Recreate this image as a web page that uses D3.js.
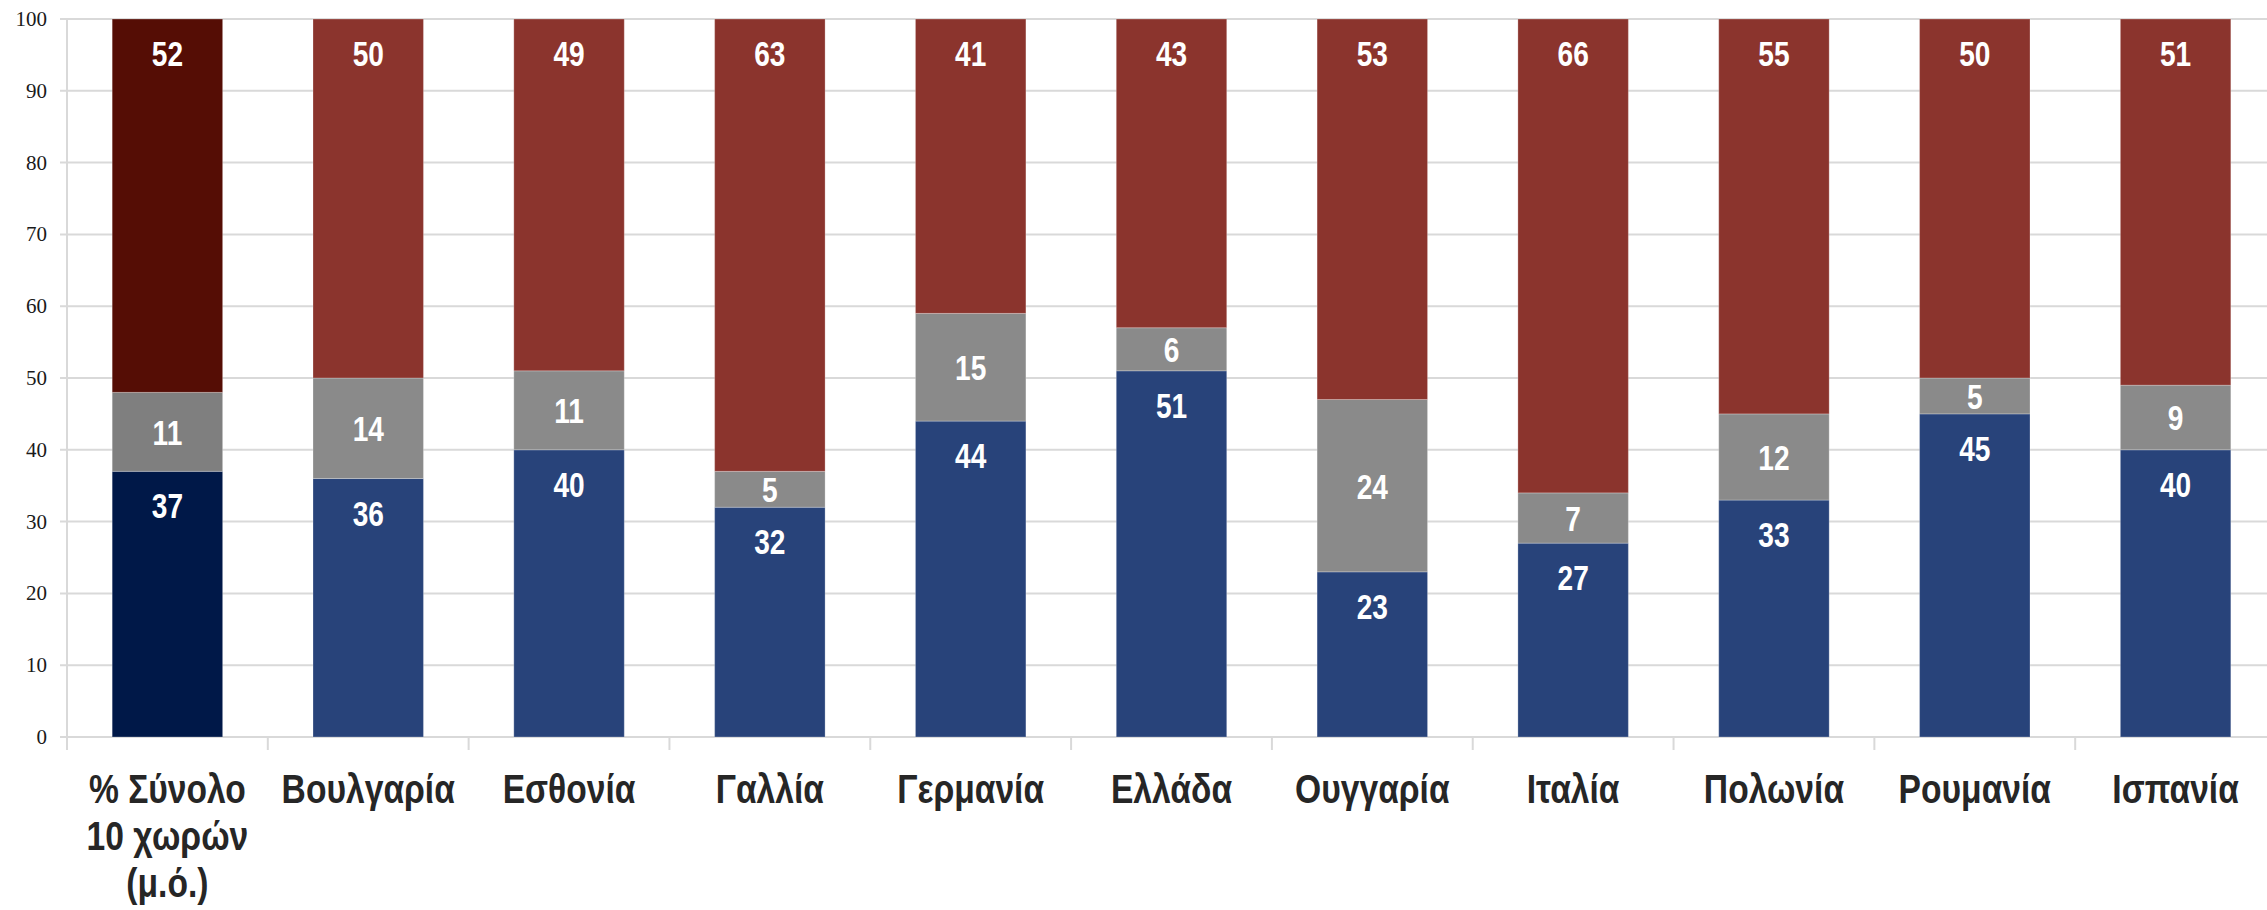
<!DOCTYPE html>
<html>
<head>
<meta charset="utf-8">
<script src="https://cdn.jsdelivr.net/npm/d3@7"></script>
<style>
  body { margin: 0; background: #fff; }
  svg { display: block; }
</style>
</head>
<body>
<svg width="2267" height="910"></svg>
<script>
// categories (first one is the 10-country average)
var categories = [
    ["% Σύνολο", "10 χωρών", "(μ.ό.)"],
    ["Βουλγαρία"], ["Εσθονία"], ["Γαλλία"], ["Γερμανία"], ["Ελλάδα"],
    ["Ουγγαρία"], ["Ιταλία"], ["Πολωνία"], ["Ρουμανία"], ["Ισπανία"]
];
var blueValues = [37, 36, 40, 32, 44, 51, 23, 27, 33, 45, 40];
var grayValues = [11, 14, 11, 5, 15, 6, 24, 7, 12, 5, 9];
var redValues  = [52, 50, 49, 63, 41, 43, 53, 66, 55, 50, 51];
var yTicks = [0, 10, 20, 30, 40, 50, 60, 70, 80, 90, 100];

var chart = {

    colors : {
        blue : ["#001848", "#28437a"],
        gray : ["#7f7f7f", "#8a8a8a"],
        red  : ["#550d05", "#8b342d"]
    },

    show : function() {
        var rows = categories.map(function(c, i) {
            return {i: i, blue: blueValues[i], gray: grayValues[i], red: redValues[i]};
        });
        chart.dataViz(rows);
    },

    dataViz : function(rows) {
        var svg = d3.select("svg");

        var x = d3.scaleBand()
            .domain(d3.range(categories.length))
            .range([67, 2276])
            .paddingInner(0.45)
            .paddingOuter(0.225);

        var y = d3.scaleLinear().domain([0, 100]).range([737, 19]);

        // gridlines
        svg.append("g")
            .selectAll("line")
            .data(yTicks)
            .enter()
            .append("line")
            .attr("x1", 60)
            .attr("x2", 2267)
            .attr("y1", function(d) {return y(d);})
            .attr("y2", function(d) {return y(d);})
            .style("stroke", "#d9d9d9")
            .style("stroke-width", "2px");

        // y axis line
        svg.append("line")
            .attr("x1", 67).attr("x2", 67)
            .attr("y1", y(100)).attr("y2", 750)
            .style("stroke", "#d9d9d9")
            .style("stroke-width", "2px");

        // x ticks at band boundaries
        var step = x.step();
        svg.append("g")
            .selectAll("line")
            .data(d3.range(categories.length + 1))
            .enter()
            .append("line")
            .attr("x1", function(d) {return 67 + d * step;})
            .attr("x2", function(d) {return 67 + d * step;})
            .attr("y1", y(0))
            .attr("y2", 750)
            .style("stroke", "#d9d9d9")
            .style("stroke-width", "2px");

        // y tick labels
        svg.append("g")
            .selectAll("text")
            .data(yTicks)
            .enter()
            .append("text")
            .attr("x", 47)
            .attr("y", function(d) {return y(d) + 7;})
            .style("text-anchor", "end")
            .style("font-family", "'Liberation Serif', 'DejaVu Serif', serif")
            .style("font-size", "21px")
            .style("fill", "#1a1a1a")
            .text(function(d) {return d;});

        var stack = d3.stack().keys(["blue", "gray", "red"])(rows);

        var layers = svg.append("g")
            .selectAll("g")
            .data(stack)
            .enter()
            .append("g");

        layers.selectAll("rect")
            .data(function(s) {return s.map(function(p) {return {key: s.key, p: p};});})
            .enter()
            .append("rect")
            .attr("x", function(d) {return x(d.p.data.i);})
            .attr("width", x.bandwidth())
            .attr("y", function(d) {return y(d.p[1]);})
            .attr("height", function(d) {return y(d.p[0]) - y(d.p[1]);})
            .style("fill", function(d) {return chart.colors[d.key][d.p.data.i === 0 ? 0 : 1];})
            .style("stroke", "rgba(255,255,255,0.25)")
            .style("stroke-width", "1px");

        // value labels: red and blue at the top inside, gray centred
        // (no narrow font installed, so squeeze horizontally)
        layers.selectAll("text")
            .data(function(s) {return s.map(function(p) {return {key: s.key, p: p};});})
            .enter()
            .append("text")
            .attr("transform", function(d) {
                var tx = x(d.p.data.i) + x.bandwidth() / 2;
                var ty = d.key === "gray" ? (y(d.p[0]) + y(d.p[1])) / 2 + 13 : y(d.p[1]) + 47;
                return "translate(" + tx + "," + ty + ") scale(0.78,1)";
            })
            .style("text-anchor", "middle")
            .style("font-family", "'Liberation Sans', Arial, sans-serif")
            .style("font-weight", "bold")
            .style("font-size", "36px")
            .style("fill", "#ffffff")
            .text(function(d) {return d.p[1] - d.p[0];});

        // category labels
        var cat = svg.append("g")
            .selectAll("text")
            .data(categories)
            .enter()
            .append("text")
            .attr("transform", function(d, i) {
                return "translate(" + (x(i) + x.bandwidth() / 2) + ",803) scale(0.82,1)";
            })
            .style("text-anchor", "middle")
            .style("font-family", "'Liberation Sans', Arial, sans-serif")
            .style("font-weight", "bold")
            .style("font-size", "41px")
            .style("fill", "#262626");

        cat.selectAll("tspan")
            .data(function(d) {return d;})
            .enter()
            .append("tspan")
            .attr("x", 0)
            .attr("dy", function(d, i) {return i === 0 ? 0 : 47;})
            .text(function(d) {return d;});
    }
};

chart.show();
</script>
</body>
</html>
